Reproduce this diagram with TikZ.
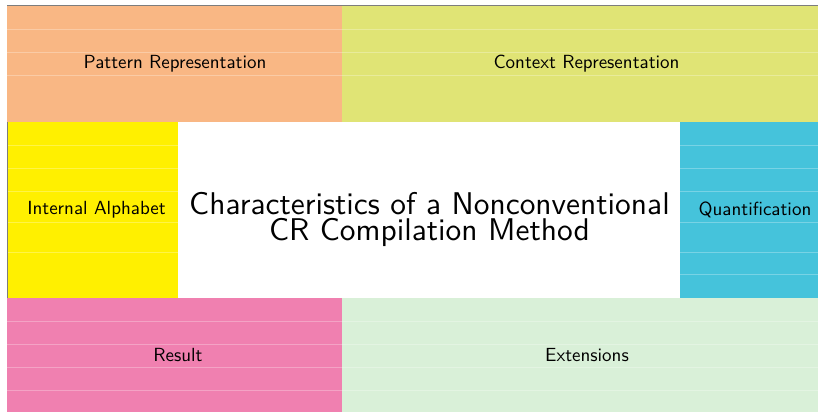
\documentclass[tikz,border=0pt]{standalone}
\usepackage{fontspec}
\newfontfamily\lmsten{lmsans10-regular}[Extension=.otf]
\definecolor{cpat}{RGB}{249,183,132}
\definecolor{cctx}{RGB}{224,228,117}
\definecolor{calph}{RGB}{255,240,0}
\definecolor{cquant}{RGB}{69,195,219}
\definecolor{cres}{RGB}{240,128,176}
\definecolor{cext}{RGB}{217,240,216}
\definecolor{cframe}{RGB}{125,125,125}
\tikzset{
  rule/.style={draw=white,opacity=0.28,line width=0.8pt},
  lbl/.style={font=\lmsten\fontsize{19}{23}\selectfont,text=black,inner sep=0pt},
  ttl/.style={font=\lmsten\fontsize{31.4}{25.5}\selectfont,text=black,align=center,inner sep=0pt},
  framel/.style={draw=cframe,line width=1.4pt}
}
\begin{document}
\begin{tikzpicture}[x=1pt,y=-1pt]
\useasboundingbox (0,0) rectangle (818,412);
% blocks
\fill[cpat]   (7,6) rectangle (342,122);
\fill[cctx]   (342,6) rectangle (830,122);
\fill[calph]  (7,122) rectangle (178,298);
\fill[cquant] (680,122) rectangle (830,298);
\fill[cres]   (7,298) rectangle (342,412);
\fill[cext]   (342,298) rectangle (830,412);
% faint rules
\foreach \y in {29,52,75} {\draw[rule] (7,\y) -- (818,\y);}
\foreach \y in {145,168,191.5,222,252} {\draw[rule] (7,\y) -- (178,\y);}
\foreach \y in {145,168,191.5,222,252,274} {\draw[rule] (680,\y) -- (818,\y);}
\foreach \y in {321,344,367,390} {\draw[rule] (7,\y) -- (818,\y);}
% frame lines
\draw[framel] (7,5.5) -- (818,5.5);
\draw[framel] (7.3,122) -- (7.3,298);
% labels
\node[lbl] (pat)   at (175,63.5)  {Pattern Representation};
\node[lbl] (ctx)   at (586.5,63.5) {Context Representation};
\node[lbl] (alph)  at (96.5,210) {Internal Alphabet};
\node[lbl] (quant) at (755,210) {Quantification};
\node[lbl] (res)   at (178,355) {Result};
\node[lbl] (ext)   at (587,355) {Extensions};
\node[ttl] (title) at (429.5,219.5) {Characteristics of a Nonconventional\\CR Compilation Method};
\end{tikzpicture}
\end{document}
